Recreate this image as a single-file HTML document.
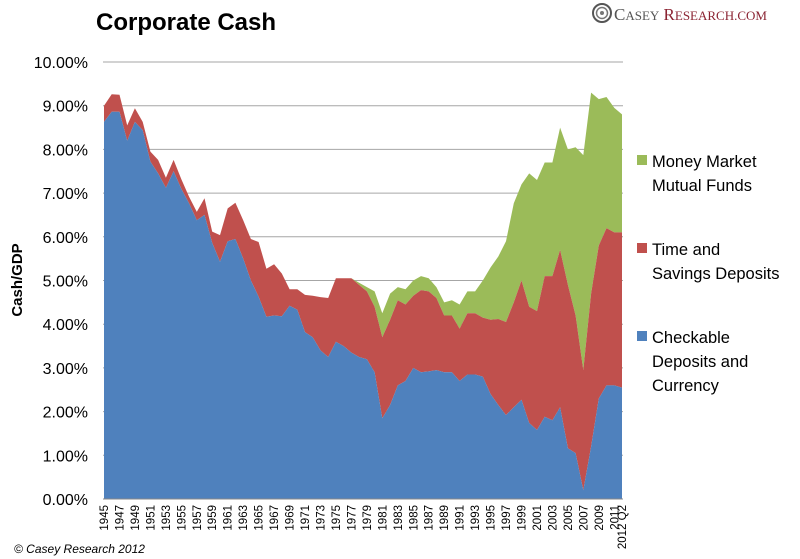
<!DOCTYPE html>
<html><head><meta charset="utf-8"><style>
body{margin:0;background:#fff;font-family:"Liberation Sans",sans-serif;}
svg{display:block}
</style></head><body>
<svg width="800" height="559" viewBox="0 0 800 559">
<text x="96" y="30" font-size="24" font-weight="bold" fill="#000">Corporate Cash</text>
<g>
<circle cx="602" cy="13" r="9" fill="none" stroke="#555" stroke-width="2"/>
<circle cx="602" cy="13" r="5.5" fill="none" stroke="#777" stroke-width="1.5"/>
<circle cx="602" cy="13" r="2" fill="#777"/>
<text x="614" y="20" font-family="Liberation Serif,serif" font-size="17" fill="#555">C<tspan font-size="13">ASEY</tspan> <tspan fill="#8b2332">R</tspan><tspan fill="#8b2332" font-size="13">ESEARCH.COM</tspan></text>
</g>
<text transform="translate(22,280) rotate(-90)" text-anchor="middle" font-size="15" font-weight="bold">Cash/GDP</text>
<g id="grid"></g>
<g id="areas"></g>
<g id="yticks"></g>
<g id="xticks"></g>
<g>
<rect x="637" y="155" width="10" height="10" fill="#9bbb59"/>
<text x="652" y="167" font-size="16.5">Money Market</text>
<text x="652" y="191" font-size="16.5">Mutual Funds</text>
<rect x="637" y="243" width="10" height="10" fill="#c0504d"/>
<text x="652" y="255" font-size="16.5">Time and</text>
<text x="652" y="279" font-size="16.5">Savings Deposits</text>
<rect x="637" y="331" width="10" height="10" fill="#4f81bd"/>
<text x="652" y="343" font-size="16.5">Checkable</text>
<text x="652" y="367" font-size="16.5">Deposits and</text>
<text x="652" y="391" font-size="16.5">Currency</text>
</g>
<text x="14" y="553" font-size="12" font-style="italic">© Casey Research 2012</text>
</svg>
<script>
const years = [];
for (let y = 1945; y <= 2011; y++) years.push(String(y));
years.push("2012 Q2");
const checkable = [8.63,8.86,8.86,8.2,8.63,8.44,7.72,7.45,7.12,7.5,7.1,6.77,6.38,6.5,5.86,5.43,5.9,5.95,5.5,5.0,4.63,4.17,4.2,4.18,4.42,4.33,3.82,3.7,3.4,3.25,3.6,3.5,3.35,3.25,3.2,2.9,1.85,2.15,2.6,2.7,3.0,2.9,2.92,2.95,2.9,2.9,2.7,2.85,2.85,2.8,2.4,2.15,1.92,2.1,2.27,1.74,1.58,1.88,1.8,2.1,1.16,1.05,0.2,1.2,2.3,2.6,2.6,2.55];
const timeSavingsTop = [9.0,9.26,9.25,8.55,8.94,8.63,7.95,7.76,7.35,7.76,7.32,6.92,6.57,6.88,6.12,6.04,6.65,6.78,6.38,5.95,5.88,5.27,5.37,5.16,4.8,4.8,4.67,4.65,4.62,4.6,5.05,5.05,5.05,4.9,4.75,4.4,3.7,4.1,4.55,4.45,4.65,4.78,4.75,4.6,4.2,4.2,3.9,4.25,4.25,4.15,4.1,4.12,4.05,4.5,5.0,4.4,4.3,5.1,5.1,5.7,4.9,4.2,2.95,4.7,5.8,6.2,6.1,6.1];
const moneyMarketTop = [9.0,9.26,9.25,8.55,8.94,8.63,7.95,7.76,7.35,7.76,7.32,6.92,6.57,6.88,6.12,6.04,6.65,6.78,6.38,5.95,5.88,5.27,5.37,5.16,4.8,4.8,4.67,4.65,4.62,4.6,5.05,5.05,5.05,4.95,4.85,4.75,4.25,4.7,4.85,4.8,5.0,5.1,5.05,4.85,4.5,4.55,4.45,4.75,4.75,5.0,5.3,5.55,5.9,6.77,7.2,7.45,7.3,7.7,7.7,8.5,8.0,8.05,7.87,9.3,9.15,9.2,8.95,8.8];
const yTicks = [0,1,2,3,4,5,6,7,8,9,10];

const NS = "http://www.w3.org/2000/svg";
const X0 = 104, X1 = 622, Y0 = 499, Y1 = 62, PL = 103, PR = 623;
const xs = i => X0 + (X1 - X0) * i / (years.length - 1);
const ys = v => Y0 - (Y0 - Y1) * v / 10;
function mk(tag, attrs, parent) {
  const e = document.createElementNS(NS, tag);
  for (const k in attrs) e.setAttribute(k, attrs[k]);
  parent.appendChild(e);
  return e;
}
const grid = document.getElementById('grid');
const yt = document.getElementById('yticks');
yTicks.forEach(t => {
  const l = mk('line', {x1: PL, x2: PR, y1: ys(t), y2: ys(t), stroke: '#a6a6a6', 'stroke-width': 1}, grid);
  
  
  const tx = mk('text', {x: 88, y: ys(t) + 6, 'text-anchor': 'end', 'font-size': 16}, yt);
  tx.textContent = t.toFixed(2) + '%';
  
  
});
const areas = document.getElementById('areas');
function band(top, bottom, color, name) {
  let d = '';
  top.forEach((v, i) => { d += (i ? 'L' : 'M') + xs(i).toFixed(1) + ' ' + ys(v).toFixed(1); });
  for (let i = top.length - 1; i >= 0; i--) d += 'L' + xs(i).toFixed(1) + ' ' + ys(bottom ? bottom[i] : 0).toFixed(1);
  const p = mk('path', {d: d + 'Z', fill: color}, areas);
  
  
}
band(moneyMarketTop, timeSavingsTop, '#9bbb59', 'area-money-market');
band(timeSavingsTop, checkable, '#c0504d', 'area-time-savings');
band(checkable, null, '#4f81bd', 'area-checkable');
const ax = mk('line', {x1: PL, x2: PR, y1: Y0, y2: Y0, stroke: '#888', 'stroke-width': 1}, areas);


const xt = document.getElementById('xticks');
years.forEach((y, i) => {
  if (i % 2 !== 0 && i !== years.length - 1) return;
  const tx = mk('text', {transform: 'translate(' + (xs(i) + 4).toFixed(1) + ',505) rotate(-90)', 'text-anchor': 'end', 'font-size': 11.5}, xt);
  tx.textContent = y;
  
  
});
</script>
</body></html>
